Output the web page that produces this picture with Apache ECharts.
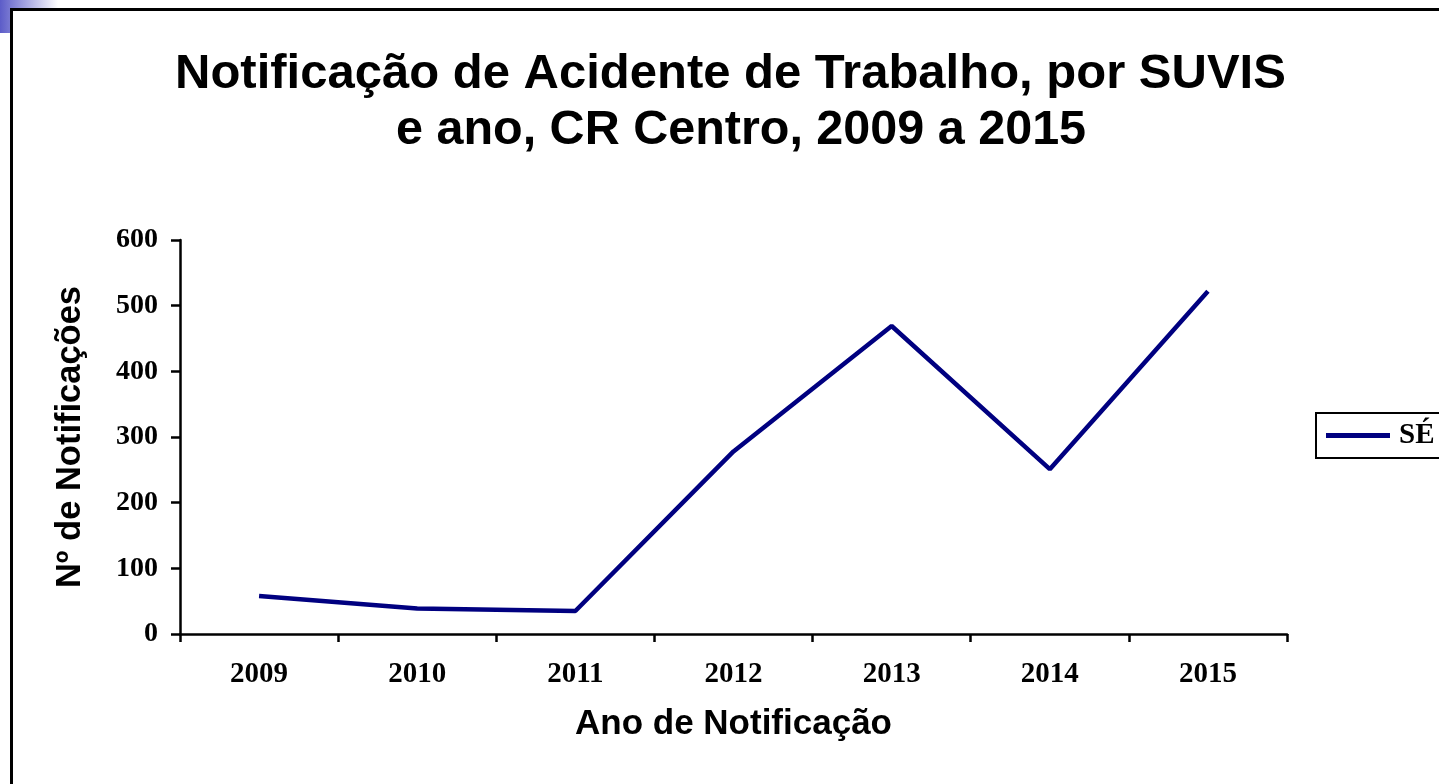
<!DOCTYPE html>
<html>
<head>
<meta charset="utf-8">
<title>Notificação de Acidente de Trabalho</title>
<script src="https://cdn.jsdelivr.net/npm/echarts@6/dist/echarts.min.js"></script>
<style>
  html, body { margin: 0; padding: 0; background: #fff; }
  #chart { width: 1439px; height: 784px; }
</style>
</head>
<body>
<div id="chart"></div>
<script>
// dados
const anos = ["2009", "2010", "2011", "2012", "2013", "2014", "2015"];
const serieNome = "SÉ";
const notificacoes = [58, 39, 35, 278, 469, 251, 522];
const tituloLinhas = [
  "Notificação de Acidente de Trabalho, por SUVIS",
  "e ano, CR Centro, 2009 a 2015",
];

const serif = "'Liberation Serif', 'Times New Roman', serif";
const sans = "'Liberation Sans', Arial, sans-serif";

const chart = echarts.init(document.getElementById("chart"));

const option = {
  animation: false,
  title: [
    {
      text: tituloLinhas[0],
      left: 175,
      top: 50,
      padding: 0,
      textStyle: { fontFamily: sans, fontWeight: "bold", fontSize: 49, color: "#000" },
    },
    {
      text: tituloLinhas[1],
      left: 396,
      top: 106,
      padding: 0,
      textStyle: { fontFamily: sans, fontWeight: "bold", fontSize: 48.5, color: "#000" },
    },
  ],
  graphic: [
    {
      type: "rect",
      z: 0,
      silent: true,
      shape: { x: 0, y: 0, width: 58, height: 33 },
      style: {
        fill: new echarts.graphic.LinearGradient(0, 0, 1, 0, [
          { offset: 0, color: "#5c5cc8" },
          { offset: 1, color: "#ffffff" },
        ]),
      },
    },
    {
      type: "rect",
      z: 0,
      silent: true,
      shape: { x: 13, y: 11, width: 1600, height: 900 },
      style: { fill: "#fff" },
    },
    {
      type: "rect",
      z: 1,
      silent: true,
      shape: { x: 11.5, y: 9.5, width: 1600, height: 900 },
      style: { fill: "none", stroke: "#000", lineWidth: 3 },
    },
  ],
  legend: {
    data: [serieNome],
    left: 1316,
    top: 413,
    orient: "vertical",
    padding: [8, 60, 8, 10],
    borderColor: "#000",
    borderWidth: 2,
    icon: "rect",
    itemWidth: 64,
    itemHeight: 5,
    textStyle: { fontFamily: serif, fontWeight: "bold", fontSize: 29, color: "#000", padding: [0, 0, 0, 4] },
  },
  grid: {
    left: 180,
    right: 152,
    top: 240,
    bottom: 150,
    containLabel: false,
  },
  xAxis: {
    type: "category",
    data: anos,
    boundaryGap: true,
    name: "Ano de Notificação",
    nameLocation: "middle",
    nameGap: 73,
    nameTextStyle: { fontFamily: sans, fontWeight: "bold", fontSize: 35, color: "#000" },
    axisLine: { lineStyle: { color: "#000", width: 2.5 } },
    axisTick: { show: true, alignWithLabel: false, length: 8, lineStyle: { color: "#000", width: 2.5 } },
    axisLabel: { fontFamily: serif, fontWeight: "bold", fontSize: 29, color: "#000", margin: 26 },
  },
  yAxis: {
    type: "value",
    min: 0,
    max: 600,
    interval: 100,
    name: "Nº de Notificações",
    nameLocation: "middle",
    nameGap: 92,
    nameTextStyle: { fontFamily: sans, fontWeight: "bold", fontSize: 34.5, color: "#000" },
    axisLine: { show: true, lineStyle: { color: "#000", width: 2.5 } },
    axisTick: { show: true, length: 9, lineStyle: { color: "#000", width: 2.5 } },
    splitLine: { show: false },
    axisLabel: { fontFamily: serif, fontWeight: "bold", fontSize: 28, color: "#000", margin: 22 },
  },
  series: [
    {
      name: serieNome,
      type: "line",
      data: notificacoes,
      showSymbol: false,
      symbol: "none",
      lineStyle: { color: "#000080", width: 4.5 },
      itemStyle: { color: "#000080" },
      z: 5,
    },
  ],
};

chart.setOption(option);
</script>
</body>
</html>
